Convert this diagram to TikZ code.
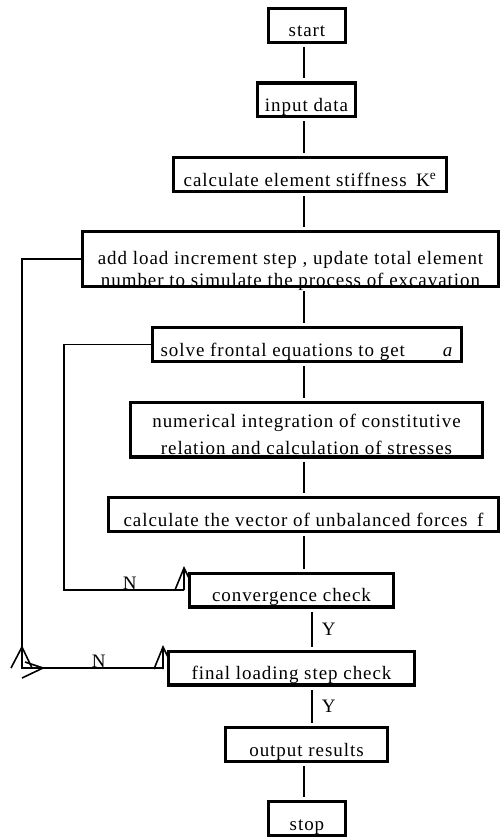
\documentclass[tikz,border=0pt]{standalone}
\usepackage{fontspec}
\setmainfont{Liberation Serif}[LetterSpace=5]
\begin{document}
\begin{tikzpicture}[x=1pt,y=-1pt,
  box/.style={draw, line width=3.4pt, inner xsep=0pt, inner ysep=0pt,
    text height=23pt, text depth=0pt, minimum height=33.6pt,
    font=\fontsize{19}{22}\selectfont},
  box2/.style={box, minimum height=54.6pt},
  conn/.style={line width=1.6pt},
  vlink/.style={conn, shorten <=3pt, shorten >=3pt},
  lab/.style={font=\fontsize{19}{22}\selectfont, inner sep=0pt},
  wedge/.pic={\draw[line width=1.6pt] (-9,22) -- (0,0) -- (5,10) (0,0) -- (0,22);}
]
\useasboundingbox (0,0) rectangle (501,837);
\fill[white] (0,0) rectangle (501,837);

\node[box, minimum width=76.6pt]  (start) at (307,25.5) {start};
\node[box, minimum width=97.6pt]  (input) at (306.5,100) {input data};
\node[box, minimum width=272.6pt] (calck) at (310,174.5) {calculate element stiffness\enspace K\textsuperscript{e}};
\node[box2, minimum width=415.6pt, text height=54pt] (add) at (290.5,259)
  {\renewcommand\arraystretch{0.955}\begin{tabular}[b]{@{}c@{}}add load increment step , update total element\\ number to simulate the process of excavation\end{tabular}};
\node[box, minimum width=308.6pt] (solve) at (307,344.5) {solve frontal equations to get\qquad\textit{a}};
\node[box2, minimum width=351.6pt, text height=49pt] (num) at (306.5,429.5)
  {\renewcommand\arraystretch{1.227}\begin{tabular}[b]{@{}c@{}}numerical integration of constitutive\\ relation and calculation of stresses\end{tabular}};
\node[box, minimum width=389.6pt] (calcf) at (303.5,514.5) {calculate the vector of unbalanced forces\enspace f};
\node[box, minimum width=203.6pt] (conv) at (291.5,590) {convergence check};
\node[box, minimum width=245.6pt] (final) at (291.5,668) {final loading step check};
\node[box, minimum width=161.6pt] (output) at (306.5,744.5) {output results};
\node[box, minimum width=76.6pt]  (stop) at (307,818.5) {stop};

\coordinate (mx) at (304,0);
\coordinate (my) at (312,0);
\coordinate (L1) at (22,0);
\coordinate (L2) at (64,0);

\draw[vlink] (start.south -| mx) -- (input.north -| mx);
\draw[vlink] (input.south -| mx) -- (calck.north -| mx);
\draw[vlink] (calck.south -| mx) -- (add.north -| mx);
\draw[vlink] (add.south -| mx) -- (solve.north -| mx);
\draw[vlink] (solve.south -| mx) -- (num.north -| mx);
\draw[vlink] (num.south -| mx) -- (calcf.north -| mx);
\draw[vlink] (calcf.south -| mx) -- (conv.north -| mx);
\draw[vlink] (conv.south -| my) -- node[lab, right=9pt] {Y} (final.north -| my);
\draw[vlink] (final.south -| my) -- node[lab, right=9pt] {Y} (output.north -| my);
\draw[vlink] (output.south -| mx) -- (stop.north -| mx);

% N loops
\draw[conn, shorten <=4pt] (conv.west) -- node[lab, above=0pt, pos=0.47] {N} (conv.west -| L2) -- (solve.west -| L2) -- (solve.west);
\draw[conn, shorten <=4pt] (final.west) -- node[lab, above=0pt, pos=0.47] {N} (final.west -| L1) -- (add.west -| L1) -- (add.west);

% garbled arrow tips
\pic at (184,568) {wedge};
\pic at (163,647) {wedge};
\draw[conn] (11,668) -- (22,647) -- (32,668);
\draw[conn] (25,662) -- (43,668) -- (22,678);
\end{tikzpicture}
\end{document}
